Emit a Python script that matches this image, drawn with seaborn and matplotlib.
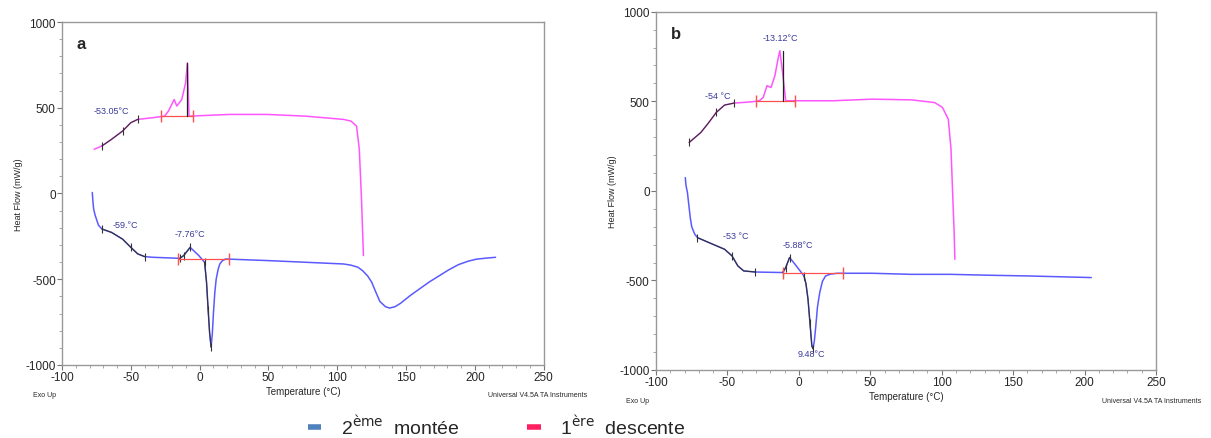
import numpy as np
import pandas as pd
import matplotlib
matplotlib.use("Agg")
import matplotlib.pyplot as plt
import seaborn as sns
from matplotlib.lines import Line2D
from matplotlib.ticker import MultipleLocator

sns.set_style("white")
plt.rcParams['font.family'] = ['Liberation Sans', 'DejaVu Sans']
plt.rcParams['axes.unicode_minus'] = False

# panel a - 1ere descente (cooling)
a_cool_T = [-76.6, -71, -64, -56, -50, -45, -34, -25.5, -22.7, -18.5, -16.6, -13, -10.2,
            -8.9, -7.7, 21.6, 49, 77, 104.6, 110, 114, 116, 117.6, 119]
a_cool_hf = [258, 277, 316, 364, 413, 432, 442, 451, 480, 548, 510, 548, 645,
             762, 451, 461, 461, 451, 432, 422, 393, 258, -33, -362]
# panel a - 2eme montee (heating)
a_heat_T = [-78, -77.5, -77, -76, -75, -73.5, -71, -64, -56, -50, -45, -40, -34, -14.4,
            -11.6, -6.9, -0.6, 3.6, 5, 6.2, 7.2, 8.3, 9.2, 10, 11, 12, 13.5, 14.7, 16.5,
            18.8, 49, 77, 104.6, 110, 115, 118.4, 122, 125, 128, 131, 135, 138, 142, 146,
            153, 160, 167, 174, 181, 188, 195, 201, 208, 215]
a_heat_hf = [6, -50, -91, -125, -149, -185, -207, -227, -266, -314, -352, -368, -372, -378,
             -362, -314, -362, -401, -517, -680, -808, -895, -820, -700, -580, -500, -440, -410, -392,
             -382, -391, -401, -411, -418, -430, -450, -480, -517, -575, -630, -660, -668, -660, -640,
             -595, -555, -515, -480, -445, -415, -395, -383, -377, -372]

# panel b - 1ere descente
b_cool_T = [-76.8, -68.6, -63, -57.8, -52, -45.4, -33, -27.7, -25, -22.3, -19.5, -16.8,
            -14.6, -13.3, -11.4, -9.2, 24, 51.4, 78.7, 95, 100.5, 104.6, 106.5, 107.8,
            108.7, 109.2]
b_cool_hf = [270, 326, 382, 438, 479, 490, 497, 503, 521, 587, 577, 642,
             736, 782, 661, 503, 503, 512, 508, 493, 466, 400, 233, -47,
             -233, -382]
# panel b - 2eme montee
b_heat_T = [-79.5, -79, -78, -77, -76, -75, -73, -71, -65.8, -57.6, -52, -46.8, -42.7,
            -38.6, -30.5, -11.3, -9.2, -6.5, -1.8, 3.6, 5, 6.4, 7.8, 9.1, 9.9, 10.8, 11.8,
            13, 14.6, 16.5, 18.7, 22, 26.8, 51.4, 78.7, 106, 133, 160.5, 204.7]
b_heat_hf = [74, 30, -9, -80, -150, -200, -240, -261, -279, -307, -326, -363, -419,
             -447, -453, -456, -428, -372, -419, -475, -520, -605, -740, -866, -881, -840, -760,
             -650, -568, -505, -475, -465, -460, -460, -466, -466, -471, -475, -484]

# analysis annotations: (text, T, heat flow)
a_labels = [("-53.05°C", -64, 455), ("-59.°C", -54, -205), ("-7.76°C", -7, -262)]
b_labels = [("-54 °C", -57, 505), ("-13.12°C", -13, 830), ("-53 °C", -44, -272),
            ("-5.88°C", -1, -322), ("9.48°C", 9, -935)]

# analysis ranges (black overlay) and baselines (red)
a_black = [("cool", -73, -35), ("heat", -73, -35), ("heat", -14.4, -6.9), ("heat", 3.6, 8.3)]
b_black = [("cool", -77, -40), ("heat", -71, -30.5), ("heat", -11.3, -6.5), ("heat", 3.6, 9.9)]
a_base = [("cool", -28, -5, 450), ("heat", -16, 21, -380)]
b_base = [("cool", -30, -3, 500), ("heat", -11, 31, -460)]
a_drop = (-9, 450, 762)
b_drop = (-11.2, 503, 782)

pink = "#ff55ff"
blue = "#5a5aff"


def draw_panel(ax, letter, cool_T, cool_hf, heat_T, heat_hf, labels, blacks, bases, drop):
    cool = pd.DataFrame({"T": cool_T, "hf": cool_hf})
    heat = pd.DataFrame({"T": heat_T, "hf": heat_hf})
    sns.lineplot(data=cool, x="T", y="hf", ax=ax, color=pink, lw=1.1, sort=False, estimator=None)
    sns.lineplot(data=heat, x="T", y="hf", ax=ax, color=blue, lw=1.1, sort=False, estimator=None)

    curves = {"cool": cool, "heat": heat}
    for which, t0, t1 in blacks:
        d = curves[which]
        seg = d[(d["T"] >= t0) & (d["T"] <= t1)]
        n = len(seg)
        marks = sorted(set([0, n // 2, n - 1]))
        ax.plot(seg["T"], seg["hf"], color="#333333", lw=0.8, marker="|", ms=6, mew=0.8,
                markevery=marks)
    for which, t0, t1, v in bases:
        ax.plot([t0, t1], [v, v], color="#ff5050", lw=0.9, marker="|", ms=8, mew=1)
    ax.plot([drop[0], drop[0]], [drop[1], drop[2]], color="#222222", lw=0.9)

    for txt, t, v in labels:
        ax.text(t, v, txt, color="#3a3a9a", fontsize=6.5, ha="center", va="bottom")

    ax.set_xlim(-100, 250)
    ax.set_ylim(-1000, 1000)
    ax.set_xticks([-100, -50, 0, 50, 100, 150, 200, 250])
    ax.set_yticks([-1000, -500, 0, 500, 1000])
    ax.xaxis.set_minor_locator(MultipleLocator(10))
    ax.yaxis.set_minor_locator(MultipleLocator(100))
    ax.tick_params(axis="both", which="both", bottom=True, left=True, top=False, right=False)
    ax.tick_params(axis="both", which="major", direction="out", length=3.5, width=0.8,
                   labelsize=8.5, color="#777777", pad=1)
    ax.tick_params(axis="both", which="minor", direction="out", length=2, width=0.6,
                   color="#999999")
    for s in ax.spines.values():
        s.set_color("#999999")
        s.set_linewidth(1)
    ax.set_xlabel("Temperature (°C)", fontsize=7, labelpad=2)
    ax.set_ylabel("Heat Flow (mW/g)", fontsize=6.5, labelpad=2)
    ax.text(0.03, 0.96, letter, transform=ax.transAxes, fontsize=12, fontweight="bold",
            ha="left", va="top")
    ax.text(-0.06, -0.075, "Exo Up", transform=ax.transAxes, fontsize=5, ha="left", va="top")
    ax.text(1.09, -0.075, "Universal V4.5A TA Instruments", transform=ax.transAxes,
            fontsize=5, ha="right", va="top")


fig = plt.figure(figsize=(12.11, 4.39), dpi=100)
ax_a = fig.add_axes([0.0512, 0.1663, 0.3978, 0.7813])
ax_b = fig.add_axes([0.5417, 0.1549, 0.4129, 0.8161])

draw_panel(ax_a, "a", a_cool_T, a_cool_hf, a_heat_T, a_heat_hf, a_labels, a_black, a_base, a_drop)
draw_panel(ax_b, "b", b_cool_T, b_cool_hf, b_heat_T, b_heat_hf, b_labels, b_black, b_base, b_drop)

handles = [Line2D([], [], color="#4f81bd", lw=4, solid_capstyle="butt"),
           Line2D([], [], color="#ff2060", lw=4, solid_capstyle="butt")]
fig.legend(handles, [r"2$^{\mathrm{ème}}$  montée", r"1$^{\mathrm{ère}}$  descente"],
           loc="center", bbox_to_anchor=(0.41, 0.027), ncol=2, frameon=False,
           fontsize=14, handlelength=0.7, columnspacing=3.5, handletextpad=1.0)

fig.savefig("out.png", dpi=100)
